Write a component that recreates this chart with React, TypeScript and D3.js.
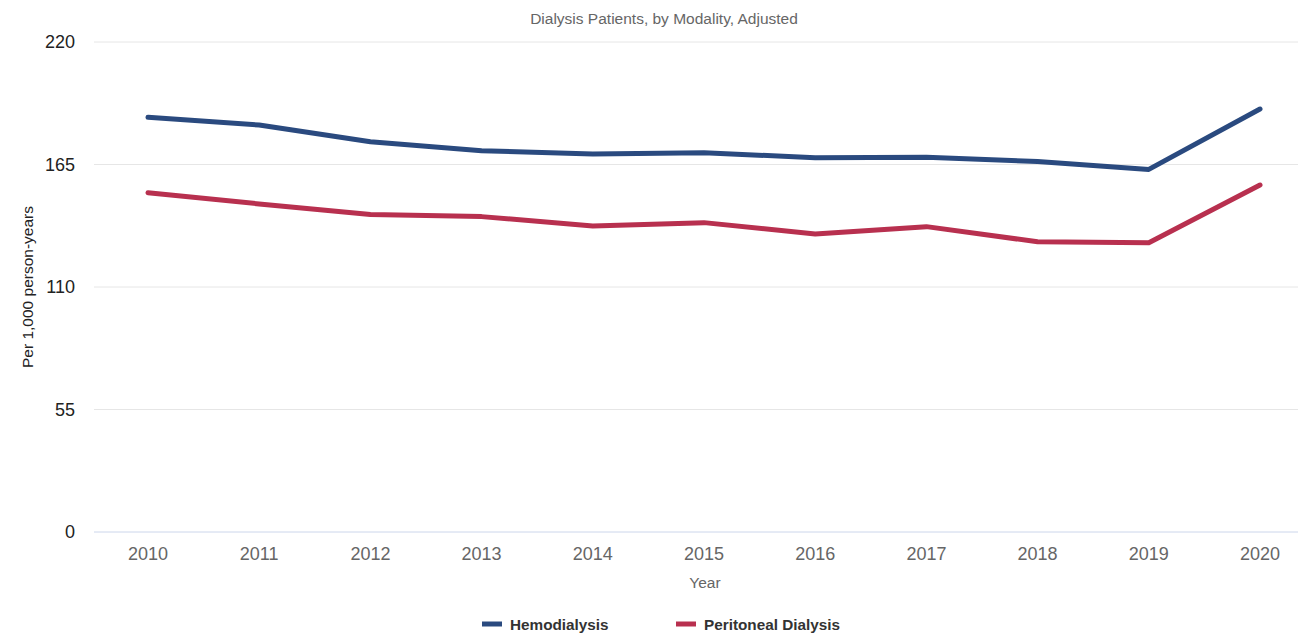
import React from "react";
import * as d3 from "d3";

const years = ["2010", "2011", "2012", "2013", "2014", "2015", "2016", "2017", "2018", "2019", "2020"];
const hemodialysis = [186.2, 182.7, 175.2, 171.2, 169.7, 170.3, 168.0, 168.2, 166.3, 162.8, 189.9];
const peritoneal = [152.3, 147.3, 142.6, 141.6, 137.4, 138.9, 133.8, 137.1, 130.3, 129.9, 155.8];
const yTicks = [0, 55, 110, 165, 220];
const seriesNames = ["Hemodialysis", "Peritoneal Dialysis"];
const seriesColors = ["#2a4a7f", "#b8304f"];

const W = 1298;
const H = 633;

export default function App() {
  const x = d3.scalePoint<string>().domain(years).range([148, 1260]);
  const y = d3.scaleLinear().domain([0, 220]).range([532, 42]);
  const line = d3
    .line<number>()
    .x((_, i) => x(years[i]) as number)
    .y((d) => y(d));
  const series = [hemodialysis, peritoneal];
  const font = "Arial, 'Liberation Sans', Helvetica, sans-serif";
  const legendX = [482, 676];

  return (
    <svg
      width={W}
      height={H}
      style={{ position: "absolute", left: 0, top: 0, background: "#fff" }}
      fontFamily={font}
    >
      <text x={664} y={24} textAnchor="middle" fontSize={15.5} fill="#666">
        Dialysis Patients, by Modality, Adjusted
      </text>
      {yTicks.map((t) => (
        <g key={t}>
          <line
            x1={94}
            x2={1298}
            y1={y(t)}
            y2={y(t)}
            stroke={t === 0 ? "#ccd6eb" : "#e6e6e6"}
            strokeWidth={1}
          />
          <text x={75} y={y(t) + 6} textAnchor="end" fontSize={18} fill="#222">
            {t}
          </text>
        </g>
      ))}
      {years.map((yr) => (
        <text key={yr} x={x(yr)} y={560} textAnchor="middle" fontSize={18} fill="#666">
          {yr}
        </text>
      ))}
      <text x={705} y={588} textAnchor="middle" fontSize={15.5} fill="#666">
        Year
      </text>
      <text
        transform={`translate(33, ${287}) rotate(-90)`}
        textAnchor="middle"
        fontSize={15.5}
        fill="#222"
      >
        Per 1,000 person-years
      </text>
      {series.map((s, i) => (
        <path
          key={i}
          d={line(s) || ""}
          fill="none"
          stroke={seriesColors[i]}
          strokeWidth={5}
          strokeLinejoin="round"
          strokeLinecap="round"
        />
      ))}
      {seriesNames.map((n, i) => (
        <g key={n}>
          <line
            x1={legendX[i]}
            x2={legendX[i] + 20}
            y1={624}
            y2={624}
            stroke={seriesColors[i]}
            strokeWidth={5}
          />
          <text x={legendX[i] + 28} y={629.5} fontSize={15.3} fontWeight="bold" fill="#333">
            {n}
          </text>
        </g>
      ))}
    </svg>
  );
}
